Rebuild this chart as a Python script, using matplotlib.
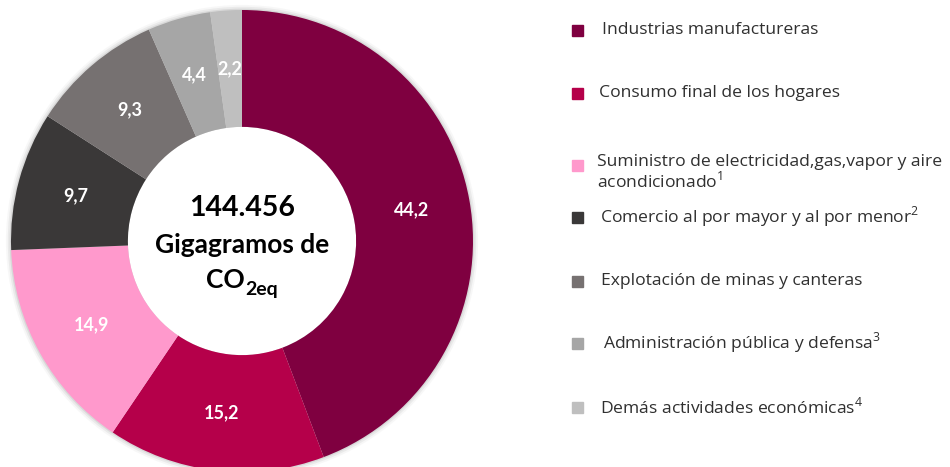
import numpy as np
import matplotlib.pyplot as plt
from matplotlib.patches import Circle, Rectangle

plt.rcParams["mathtext.fontset"] = "custom"
plt.rcParams["mathtext.rm"] = "Open Sans"

# datos (participación %, emisiones CO2eq)
sectores = [
    "Industrias manufactureras",
    "Consumo final de los hogares",
    "Suministro de electricidad,gas,vapor y aire\nacondicionado$^{1}$",
    "Comercio al por mayor y al por menor$^{2}$",
    "Explotación de minas y canteras",
    "Administración pública y defensa$^{3}$",
    "Demás actividades económicas$^{4}$",
]
valores = [44.2, 15.2, 14.9, 9.7, 9.3, 4.4, 2.2]
colores = ["#7F0040", "#B5004A", "#FF99CC", "#3A3838", "#767171", "#A6A6A6", "#BFBFBF"]
total = "144.456"

fig = plt.figure(figsize=(9.5, 4.67), dpi=100)

# pie axes: centro (242, 241) px, radio 231 px
W, H = 950, 467
cx, cy, R = 242, 241, 231
m = 1.05
ax = fig.add_axes([(cx - R * m) / W, (H - cy - R * m) / H, 2 * m * R / W, 2 * m * R / H])

wedges, _ = ax.pie(valores, colors=colores, startangle=90, counterclock=False,
                   radius=1, wedgeprops=dict(width=0.506, linewidth=0))
for w in wedges:
    w.set_zorder(2)
ax.set_xlim(-m, m)
ax.set_ylim(-m, m)
ax.set_aspect("equal")
ax.axis("off")

# sombra suave
for r, a in [(1.022, 0.06), (1.014, 0.10), (1.006, 0.16)]:
    ax.add_patch(Circle((0, 0), r, color="#808080", alpha=a, lw=0, zorder=0))
ax.add_patch(Circle((0, 0), 0.494, color="white", lw=0, zorder=1))

tot = sum(valores)
acum = 0
for v in valores:
    mid = (acum + v / 2) / tot * 2 * np.pi
    acum += v
    rr = 0.747
    ax.text(rr * np.sin(mid), rr * np.cos(mid), f"{v:.1f}".replace(".", ","),
            ha="center", va="center", color="white", fontsize=13,
            fontweight="bold", family="Lato", zorder=3)

ax.text(0, 0.143, total, ha="center", va="center", fontsize=20.5, fontweight="bold",
        family="Lato", color="black", zorder=3)
ax.text(0, -0.017, "Gigagramos de", ha="center", va="center", fontsize=19,
        fontweight="bold", family="Lato", color="black", zorder=3)
ax.text(0.012, -0.205, "CO", ha="right", va="baseline", fontsize=19,
        fontweight="bold", family="Lato", color="black", zorder=3)
ax.text(0.012, -0.235, "2eq", ha="left", va="baseline", fontsize=14,
        fontweight="bold", family="Lato", color="black", zorder=3)

# leyenda
filas_y = [30, 93, 165, 217, 281, 343, 407]
texto_y = [30, 93, 173, 217, 281, 343, 407]
texto_x = [602, 599, 597, 600, 601, 603, 600]
for i, (s, c) in enumerate(zip(sectores, colores)):
    y = filas_y[i]
    fig.patches.append(Rectangle((572 / W, (H - y - 5.5) / H), 11 / W, 11 / H,
                                 transform=fig.transFigure, color=c, figure=fig))
    fig.text(texto_x[i] / W, (H - texto_y[i]) / H, s, ha="left", va="center",
             fontsize=12.6, family="Open Sans", color="#303030", linespacing=1.05)

fig.savefig("out.png", dpi=100)
